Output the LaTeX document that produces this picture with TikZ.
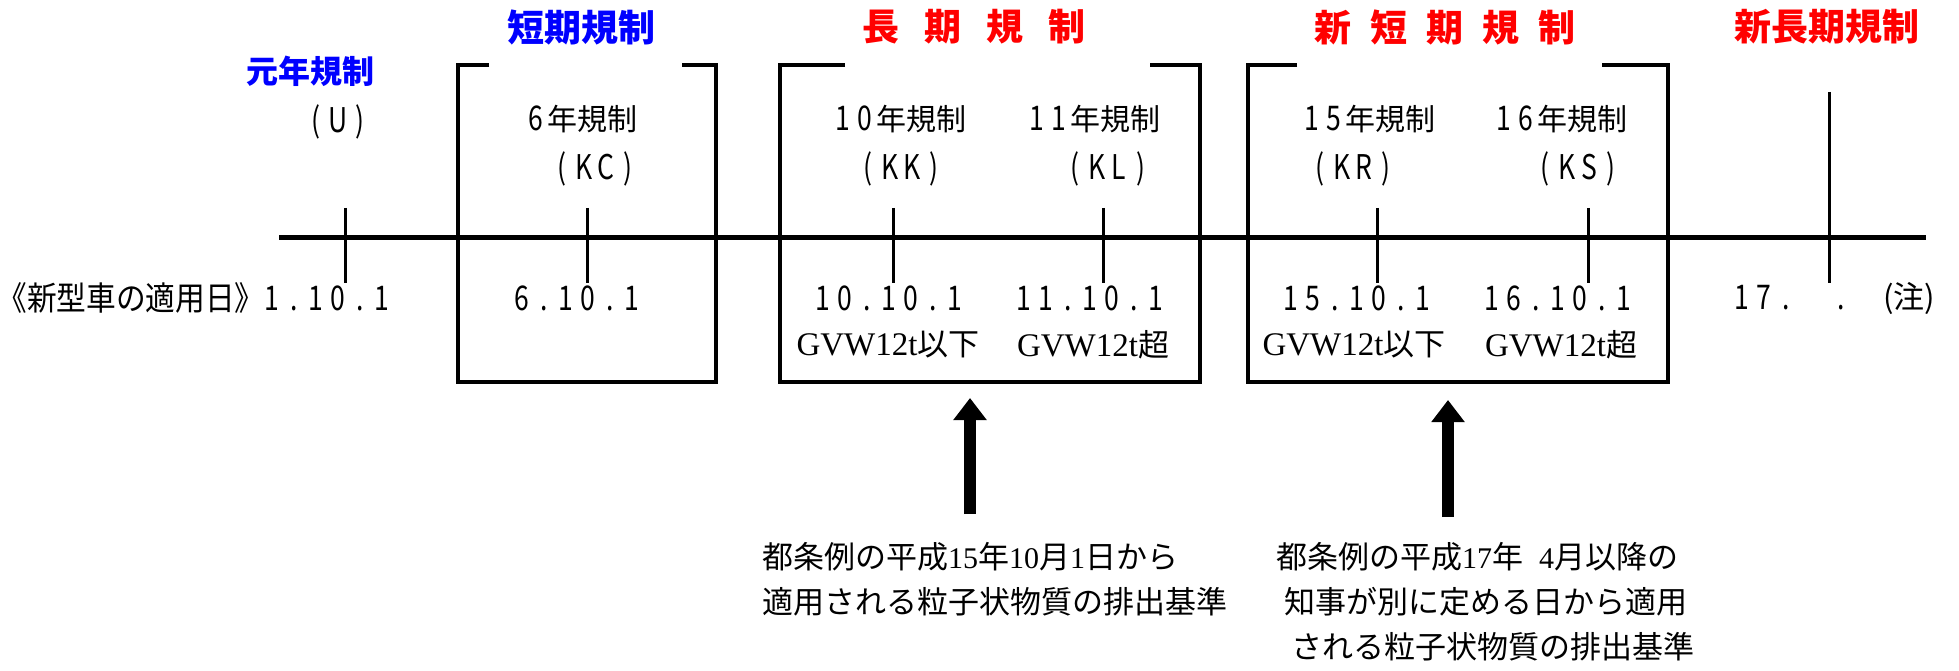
\documentclass[tikz,border=0pt]{standalone}
\usepackage{fontspec}
\usetikzlibrary{arrows.meta}
\newfontfamily\jp{Noto Sans CJK JP}
\newfontfamily\jpn{Noto Sans CJK JP}[FakeStretch=0.78]
\newfontfamily\jpw{Noto Sans CJK JP}[FakeStretch=0.9]
\newfontfamily\ser{Liberation Serif}
\definecolor{tblue}{RGB}{0,0,255}
\definecolor{tred}{RGB}{255,0,0}
\newcommand{\dc}[1]{\makebox[22pt]{\jpn\fontsize{34}{34}\selectfont #1}}
\begin{document}
\begin{tikzpicture}[x=1pt,y=-1pt,
  ttl/.style={inner sep=0pt, font=\jp\bfseries\fontsize{37}{37}\selectfont},
  ttlsm/.style={inner sep=0pt, font=\jp\bfseries\fontsize{32}{32}\selectfont},
  lbl/.style={inner sep=0pt, font=\jp\fontsize{30}{30}\selectfont},
  dt/.style={inner sep=0pt, font=\jp\fontsize{31}{31}\selectfont},
  captext/.style={inner sep=0pt, font=\jpw\fontsize{33}{33}\selectfont},
  gvw/.style={inner sep=0pt, font=\jp\fontsize{31}{31}\selectfont},
  notetext/.style={inner sep=0pt, anchor=west, font=\jp\fontsize{31}{31}\selectfont},
  boxline/.style={line width=4pt, line join=miter},
  tickline/.style={line width=3pt},
  tline/.style={line width=5pt},
  bigarrow/.style={line width=12pt, -{Triangle[length=22pt,width=32pt]}}
]
\useasboundingbox (0,0) rectangle (1959,671);
\newcommand{\gv}[1]{{\ser\fontsize{33}{33}\selectfont GVW12t}#1}
\newcommand{\sd}[1]{{\ser\fontsize{30}{30}\selectfont #1}}

% titles
\node[ttlsm, text=tblue] (tU) at (310,71) {元年規制};
\node[ttl, text=tblue] (tKC) at (581,27) {短期規制};
\node[ttl, text=tred] (tL) at (974,27) {長\hspace{25pt}期\hspace{25pt}規\hspace{25pt}制};
\node[ttl, text=tred] (tNS) at (1445,27) {新\hspace{19pt}短\hspace{19pt}期\hspace{19pt}規\hspace{19pt}制};
\node[ttl, text=tred] (tNL) at (1827,27) {新長期規制};

% timeline
\draw[tline] (279,237) -- (1926,237);

% boxes
\draw[boxline] (489,65) -- (458,65) -- (458,382) -- (716,382) -- (716,65) -- (682,65);
\draw[boxline] (845,65) -- (780,65) -- (780,382) -- (1200,382) -- (1200,65) -- (1150,65);
\draw[boxline] (1297,65) -- (1248,65) -- (1248,382) -- (1668,382) -- (1668,65) -- (1602,65);

% ticks
\foreach \x in {345,587,893,1103,1377,1588} \draw[tickline] (\x,208) -- (\x,283);
\draw[tickline] (1829,92) -- (1829,283);

% regulation labels
\node[lbl] (u) at (338,122) {\dc{(}\dc{U}\dc{)}};
\node[lbl] (y6) at (581,119) {\dc{6}年規制};
\node[lbl] (kc) at (595,169) {\dc{(}\dc{K}\dc{C}\dc{)}};
\node[lbl] (y10) at (899,119) {\dc{1}\dc{0}年規制};
\node[lbl] (kk) at (901,169) {\dc{(}\dc{K}\dc{K}\dc{)}};
\node[lbl] (y11) at (1093,119) {\dc{1}\dc{1}年規制};
\node[lbl] (kl) at (1108,169) {\dc{(}\dc{K}\dc{L}\dc{)}};
\node[lbl] (y15) at (1368,119) {\dc{1}\dc{5}年規制};
\node[lbl] (kr) at (1353,169) {\dc{(}\dc{K}\dc{R}\dc{)}};
\node[lbl] (y16) at (1560,119) {\dc{1}\dc{6}年規制};
\node[lbl] (ks) at (1578,169) {\dc{(}\dc{K}\dc{S}\dc{)}};

% dates
\node[captext] (capt) at (131,298) {《新型車の適用日》};
\node[dt] (d1) at (327,298) {\dc{1}\dc{.}\dc{1}\dc{0}\dc{.}\dc{1}};
\node[dt] (d6) at (577,298) {\dc{6}\dc{.}\dc{1}\dc{0}\dc{.}\dc{1}};
\node[dt] (d10) at (889,298) {\dc{1}\dc{0}\dc{.}\dc{1}\dc{0}\dc{.}\dc{1}};
\node[dt] (d11) at (1090,298) {\dc{1}\dc{1}\dc{.}\dc{1}\dc{0}\dc{.}\dc{1}};
\node[dt] (d15) at (1357,298) {\dc{1}\dc{5}\dc{.}\dc{1}\dc{0}\dc{.}\dc{1}};
\node[dt] (d16) at (1558,298) {\dc{1}\dc{6}\dc{.}\dc{1}\dc{0}\dc{.}\dc{1}};
\node[dt, anchor=west] (d17) at (1731,298) {\dc{1}\dc{7}\dc{.}\hspace{33pt}\dc{.}};
\node[gvw] (chu) at (1909,298) {(注)};

% GVW
\node[gvw] (g10) at (888,345) {\gv{以下}};
\node[gvw] (g11) at (1093,345) {\gv{超}};
\node[gvw] (g15) at (1354,345) {\gv{以下}};
\node[gvw] (g16) at (1561,345) {\gv{超}};

% notes
\node[notetext] (n1a) at (762,557) {都条例の平成\sd{15}年\sd{10}月\sd{1}日から};
\node[notetext] (n1b) at (762,602) {適用される粒子状物質の排出基準};
\node[notetext] (n2a) at (1276,557) {都条例の平成\sd{17}年\hspace{16pt}\sd{4}月以降の};
\node[notetext] (n2b) at (1284,602) {知事が別に定める日から適用};
\node[notetext] (n2c) at (1291,647) {される粒子状物質の排出基準};

% arrows
\coordinate (a1s) at (970,514);
\coordinate (a1e) at (970,398);
\coordinate (a2s) at (1448,517);
\coordinate (a2e) at (1448,400);
\draw[bigarrow] (a1s) -- (a1e);
\draw[bigarrow] (a2s) -- (a2e);
\end{tikzpicture}
\end{document}
